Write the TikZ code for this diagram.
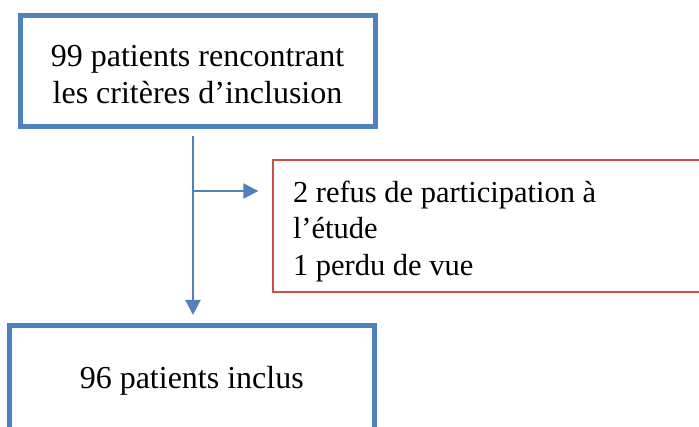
\documentclass[tikz,border=0pt]{standalone}
\usepackage{fontspec}
\setmainfont{Liberation Serif}
\usetikzlibrary{arrows.meta}
\definecolor{boxblue}{RGB}{79,129,189}
\definecolor{boxred}{RGB}{200,80,77}
\begin{document}
\begin{tikzpicture}[x=1pt, y=1pt,
        stage/.style={draw=boxblue, line width=5pt, align=center,
            font=\fontsize{32}{37}\selectfont, inner sep=0pt},
        excluded/.style={draw=boxred, line width=1.3pt, align=flush left,
            font=\fontsize{30.5}{36.5}\selectfont, inner xsep=20pt, inner ysep=0pt},
        flow/.style={draw=boxblue, line width=2pt,
            -{Triangle[length=15pt, width=15pt]}},
    ]
    \useasboundingbox (0, 0) rectangle (699, 426);

    \node[stage, minimum width=355, minimum height=111, text height=65pt] (elig) at (197.5, 354.5)
        {99 patients rencontrant\\les critères d’inclusion};
    \node[excluded, text width=407, minimum height=132, text height=32pt] (excl) at (496.5, 200)
        {2 refus de participation à\\l’étude\\1 perdu de vue};
    \node[stage, minimum width=365.5, minimum height=110] (incl) at (191.75, 45)
        {96 patients inclus};

    \coordinate (branch) at (193, 235);
    \draw[flow, shorten <=6.5pt, shorten >=8.5pt] (elig.south -| branch) -- (incl.north -| branch);
    \draw[flow, shorten >=14pt] (branch) -- (branch -| excl.west);

\end{tikzpicture}
\end{document}
